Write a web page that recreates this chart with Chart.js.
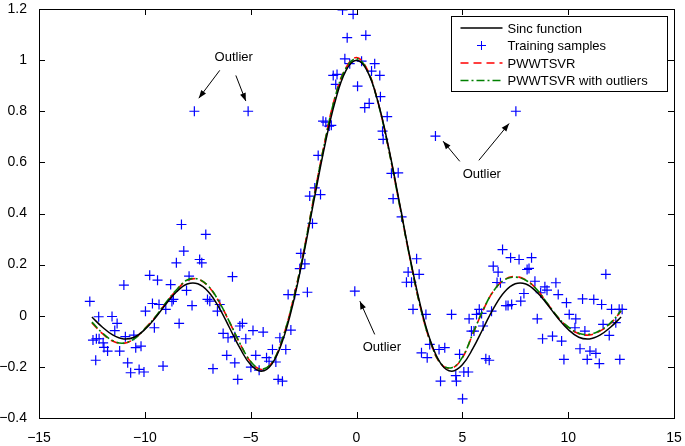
<!DOCTYPE html>
<html>
<head>
<meta charset="utf-8">
<script src="https://cdn.jsdelivr.net/npm/chart.js@4.4.1/dist/chart.umd.min.js"></script>
<style>
  html, body { margin: 0; padding: 0; background: #fff; }
  #wrap { width: 685px; height: 446px; }
</style>
</head>
<body>
<div id="wrap"><canvas id="myChart" width="685" height="446"></canvas></div>
<script>
// x grid for the curves
const curveX = [-12.5,-12,-11.5,-11,-10.5,-10,-9.5,-9,-8.5,-8,-7.5,-7,-6.5,-6,-5.5,-5,-4.5,-4,-3.5,-3,-2.5,-2,-1.5,-1,-0.5,
  0,0.5,1,1.5,2,2.5,3,3.5,4,4.5,5,5.5,6,6.5,7,7.5,8,8.5,9,9.5,10,10.5,11,11.5,12,12.5];

const sincY = [-0.005,-0.045,-0.076,-0.091,-0.084,-0.054,-0.008,0.046,0.094,0.124,0.125,0.094,0.033,-0.047,-0.128,-0.192,-0.217,-0.189,-0.100,0.047,0.239,0.455,0.665,0.841,0.959,
  1.0,0.959,0.841,0.665,0.455,0.239,0.047,-0.100,-0.189,-0.217,-0.192,-0.128,-0.047,0.033,0.094,0.125,0.124,0.094,0.046,-0.008,-0.054,-0.084,-0.091,-0.076,-0.045,-0.005];

const pwwY = [-0.028,-0.07,-0.10,-0.108,-0.09,-0.05,-0.005,0.05,0.10,0.138,0.143,0.115,0.055,-0.025,-0.11,-0.18,-0.21,-0.185,-0.09,0.06,0.25,0.47,0.68,0.86,0.97,
  1.01,0.965,0.84,0.66,0.45,0.235,0.04,-0.105,-0.19,-0.205,-0.165,-0.07,0.025,0.10,0.142,0.153,0.14,0.105,0.05,-0.005,-0.045,-0.07,-0.075,-0.06,-0.03,0.018];

const pwwOutY = [-0.025,-0.068,-0.098,-0.107,-0.09,-0.051,-0.004,0.052,0.102,0.14,0.144,0.116,0.056,-0.024,-0.109,-0.179,-0.209,-0.184,-0.09,0.058,0.248,0.468,0.678,0.858,0.968,
  1.006,0.962,0.838,0.658,0.448,0.234,0.04,-0.104,-0.188,-0.203,-0.163,-0.069,0.026,0.10,0.141,0.151,0.139,0.104,0.05,-0.004,-0.044,-0.068,-0.073,-0.058,-0.028,0.02];

const sampleX = [-12.6,-12.18,-12.45,-12.29,-12.16,-11.97,-11.93,-12.32,-11.76,-11.55,-11.42,-11.31,-10.99,-11.19,-10.92,-10.81,-10.67,-10.52,-10.43,-10.18,
  -10.27,-10.04,-9.97,-9.77,-9.64,-9.55,-9.4,-9.33,-9.14,-9.01,-8.78,-8.65,-8.72,-8.38,-8.51,-8.27,-8.16,-8.03,-7.91,-7.77,
  -7.66,-7.41,-7.31,-7.12,-7.04,-6.93,-6.78,-6.57,-6.46,-6.3,-6.07,-6.13,-5.86,-5.75,-5.61,-5.51,-5.39,-5.75,-5.23,-5.12,
  -4.89,-4.41,-4.99,-4.76,-4.6,-4.25,-4.13,-3.97,-3.81,-3.7,-3.5,-3.62,-3.34,-3.1,-3.23,-2.92,-2.32,-2.68,-2.63,-2.44,
  -2.08,-2.21,-1.97,-1.7,-1.81,-1.58,-1.45,-1.29,-1.19,-1.1,-0.92,-0.98,-0.55,-0.32,-0.44,-0.66,-0.16,0.44,0.05,0.24,
  0.39,0.6,0.71,0.86,1.1,1.13,1.45,1.23,1.26,1.65,1.97,1.73,2.13,2.84,2.44,2.96,2.36,2.6,-0.08,2.67,
  3.28,4.49,3.46,3.07,3.34,3.9,4.17,3.97,4.69,4.72,3.73,7.53,4.87,5.01,5.07,5.28,5.32,5.43,5.55,5.67,
  5.8,5.91,5.98,6.11,6.27,6.38,6.46,6.69,6.8,6.64,6.9,7.06,7.16,7.33,7.28,7.68,7.76,7.91,8.06,8.15,
  8.27,8.43,8.54,8.7,8.79,8.9,9.0,9.26,9.42,9.53,9.69,9.8,9.92,10.05,10.36,10.32,10.56,10.68,10.79,10.9,
  11.03,11.21,11.31,11.47,11.58,11.65,11.78,11.94,12.05,12.25,12.41,12.55,12.44];

const sampleY = [0.056,-0.004,-0.095,-0.09,-0.09,-0.106,-0.124,-0.174,-0.138,-0.003,-0.058,-0.03,0.12,-0.138,-0.082,-0.184,-0.223,-0.076,-0.125,-0.119,
  -0.21,-0.22,0.018,0.158,0.048,-0.047,0.139,0.044,-0.197,0.025,0.122,0.064,0.056,-0.03,0.207,0.357,0.253,0.099,0.155,0.04,
  0.80,0.22,0.207,0.318,0.064,0.057,-0.207,0.018,0.044,-0.069,-0.086,-0.155,0.153,-0.184,-0.249,-0.04,-0.03,-0.082,-0.09,0.80,
  -0.058,-0.064,-0.201,-0.155,-0.213,-0.164,-0.178,-0.132,-0.181,-0.249,-0.256,-0.086,-0.132,-0.056,0.083,0.083,0.092,0.184,0.244,0.203,
  0.361,0.468,0.50,0.474,0.627,0.761,0.757,0.742,0.745,0.94,0.944,0.905,1.005,0.986,1.088,1.196,1.179,1.097,0.898,0.996,
  0.814,0.831,0.957,0.986,0.94,0.857,0.779,0.722,0.69,0.557,0.559,0.458,0.387,0.223,0.171,0.162,0.131,0.131,0.096,0.025,
  0.005,0.005,-0.112,-0.145,-0.164,-0.132,-0.125,-0.256,-0.234,-0.256,0.703,0.80,-0.151,-0.325,-0.22,-0.22,-0.012,-0.06,-0.06,0.005,
  0.025,0.009,-0.04,-0.168,-0.174,0.018,0.194,0.171,0.129,0.13,0.259,0.04,0.04,0.044,0.227,0.22,0.057,0.087,0.181,0.185,
  0.227,0.135,-0.012,0.09,-0.09,0.113,0.1,-0.08,0.129,0.083,-0.099,-0.171,0.051,0.005,-0.012,-0.047,-0.129,0.066,-0.06,-0.171,
  -0.138,0.064,-0.147,-0.187,0.044,-0.034,0.162,-0.077,0.025,-0.027,0.025,0.025,-0.171];

const xTicks = [-15,-10,-5,0,5,10,15];
const yTicks = [-0.4,-0.2,0,0.2,0.4,0.6,0.8,1,1.2];

// "Outlier" notes: text position and arrows (tail -> head) in data units
const outlierNotes = [
  { text: [-5.8, 1.01], arrows: [[-6.46, 0.96, -7.45, 0.851], [-5.70, 0.94, -5.23, 0.84]] },
  { text: [5.92, 0.553], arrows: [[4.88, 0.604, 4.09, 0.683], [5.78, 0.608, 7.21, 0.752]] },
  { text: [1.2, -0.124], arrows: [[0.86, -0.073, 0.16, 0.057]] }
];

const seriesNames = ["Sinc function", "Training samples", "PWWTSVR", "PWWTSVR with outliers"];

const FONT = "'Liberation Sans', Arial, sans-serif";
const pairs = (xs, ys) => xs.map((x, i) => ({ x: x, y: ys[i] }));
const minus = v => String(v).replace('-', '\u2212');

const drawArrow = (ctx, x0, y0, x1, y1) => {
  ctx.beginPath();
  ctx.moveTo(x0, y0);
  ctx.lineTo(x1, y1);
  ctx.stroke();
  const ang = Math.atan2(y1 - y0, x1 - x0);
  const len = 8, w = 3;
  ctx.beginPath();
  ctx.moveTo(x1, y1);
  ctx.lineTo(x1 - len * Math.cos(ang) + w * Math.sin(ang), y1 - len * Math.sin(ang) - w * Math.cos(ang));
  ctx.lineTo(x1 - len * Math.cos(ang) - w * Math.sin(ang), y1 - len * Math.sin(ang) + w * Math.cos(ang));
  ctx.closePath();
  ctx.fill();
};

const framePlugin = {
  id: 'frame',
  afterDraw(chart) {
    const { ctx, chartArea: a, scales: { x, y } } = chart;
    ctx.save();
    ctx.strokeStyle = '#000';
    ctx.fillStyle = '#000';
    ctx.lineWidth = 1;
    ctx.strokeRect(Math.round(a.left) + 0.5, Math.round(a.top) + 0.5, Math.round(a.width), Math.round(a.height));
    const tl = 6;
    ctx.beginPath();
    xTicks.forEach(v => {
      const px = Math.round(x.getPixelForValue(v)) + 0.5;
      ctx.moveTo(px, a.bottom); ctx.lineTo(px, a.bottom - tl);
      ctx.moveTo(px, a.top); ctx.lineTo(px, a.top + tl);
    });
    yTicks.forEach(v => {
      const py = Math.round(y.getPixelForValue(v)) + 0.5;
      ctx.moveTo(a.left, py); ctx.lineTo(a.left + tl, py);
      ctx.moveTo(a.right, py); ctx.lineTo(a.right - tl, py);
    });
    ctx.stroke();

    // outlier notes
    ctx.font = '13px ' + FONT;
    ctx.textAlign = 'center';
    ctx.textBaseline = 'middle';
    outlierNotes.forEach(n => {
      ctx.fillText('Outlier', x.getPixelForValue(n.text[0]), y.getPixelForValue(n.text[1]));
      n.arrows.forEach(ar => drawArrow(ctx,
        x.getPixelForValue(ar[0]), y.getPixelForValue(ar[1]),
        x.getPixelForValue(ar[2]), y.getPixelForValue(ar[3])));
    });

    // legend box
    const bw = 216, bh = 75;
    const bx = Math.round(a.right - 7 - bw) + 0.5, by = Math.round(a.top + 7) + 0.5;
    ctx.fillStyle = '#fff';
    ctx.fillRect(bx, by, bw, bh);
    ctx.strokeStyle = '#000';
    ctx.strokeRect(bx, by, bw, bh);
    const ds = chart.data.datasets;
    ctx.textAlign = 'left';
    seriesNames.forEach((name, i) => {
      const ry = by + 11.5 + i * 17.5;
      const d = ds[i];
      ctx.save();
      if (d.showLine) {
        ctx.strokeStyle = d.borderColor;
        ctx.lineWidth = d.borderWidth;
        ctx.setLineDash(d.borderDash || []);
        ctx.beginPath();
        ctx.moveTo(bx + 9, ry); ctx.lineTo(bx + 51, ry);
        ctx.stroke();
      } else {
        ctx.strokeStyle = d.borderColor;
        ctx.lineWidth = 1;
        ctx.beginPath();
        ctx.moveTo(bx + 30 - 4.5, ry); ctx.lineTo(bx + 30 + 4.5, ry);
        ctx.moveTo(bx + 30, ry - 4.5); ctx.lineTo(bx + 30, ry + 4.5);
        ctx.stroke();
      }
      ctx.restore();
      ctx.fillStyle = '#000';
      ctx.font = '13px ' + FONT;
      ctx.fillText(name, bx + 56, ry + 1);
    });
    ctx.restore();
  }
};

const ctx = document.getElementById("myChart").getContext("2d");
const myChart = new Chart(ctx, {
  type: "scatter",
  data: {
    datasets: [
      {
        label: seriesNames[0],
        data: pairs(curveX, sincY),
        showLine: true,
        borderColor: "#000000",
        borderWidth: 1.5,
        pointRadius: 0,
        tension: 0.4,
        order: 1
      },
      {
        label: seriesNames[1],
        data: pairs(sampleX, sampleY),
        showLine: false,
        pointStyle: "cross",
        pointRadius: 5,
        borderColor: "#0000ff",
        backgroundColor: "#0000ff",
        pointBorderWidth: 1.2,
        order: 4
      },
      {
        label: seriesNames[2],
        data: pairs(curveX, pwwY),
        showLine: true,
        borderColor: "#ff0000",
        borderWidth: 1.6,
        borderDash: [8, 5],
        pointRadius: 0,
        tension: 0.4,
        order: 3
      },
      {
        label: seriesNames[3],
        data: pairs(curveX, pwwOutY),
        showLine: true,
        borderColor: "#008000",
        borderWidth: 1.6,
        borderDash: [8, 3, 2, 3],
        pointRadius: 0,
        tension: 0.4,
        order: 2
      }
    ]
  },
  options: {
    responsive: false,
    animation: false,
    events: [],
    layout: { padding: { top: 9, right: 11, left: 0, bottom: 0 } },
    plugins: { legend: { display: false }, tooltip: { enabled: false } },
    scales: {
      x: {
        type: "linear",
        min: -15, max: 15,
        afterBuildTicks: s => { s.ticks = xTicks.map(v => ({ value: v })); },
        afterFit: s => { s.height = 28; s.paddingLeft = 0; s.paddingRight = 0; },
        grid: { display: false },
        border: { display: false },
        ticks: { color: "#000", font: { family: FONT, size: 14 }, padding: 4, maxRotation: 0, callback: v => minus(v) }
      },
      y: {
        type: "linear",
        min: -0.4, max: 1.2,
        afterBuildTicks: s => { s.ticks = yTicks.map(v => ({ value: v })); },
        afterFit: s => { s.width = 39; s.paddingTop = 0; s.paddingBottom = 0; },
        grid: { display: false },
        border: { display: false },
        ticks: { color: "#000", font: { family: FONT, size: 14 }, padding: 4, callback: v => minus(Math.round(v * 10) / 10) }
      }
    }
  },
  plugins: [framePlugin]
});
</script>
</body>
</html>
